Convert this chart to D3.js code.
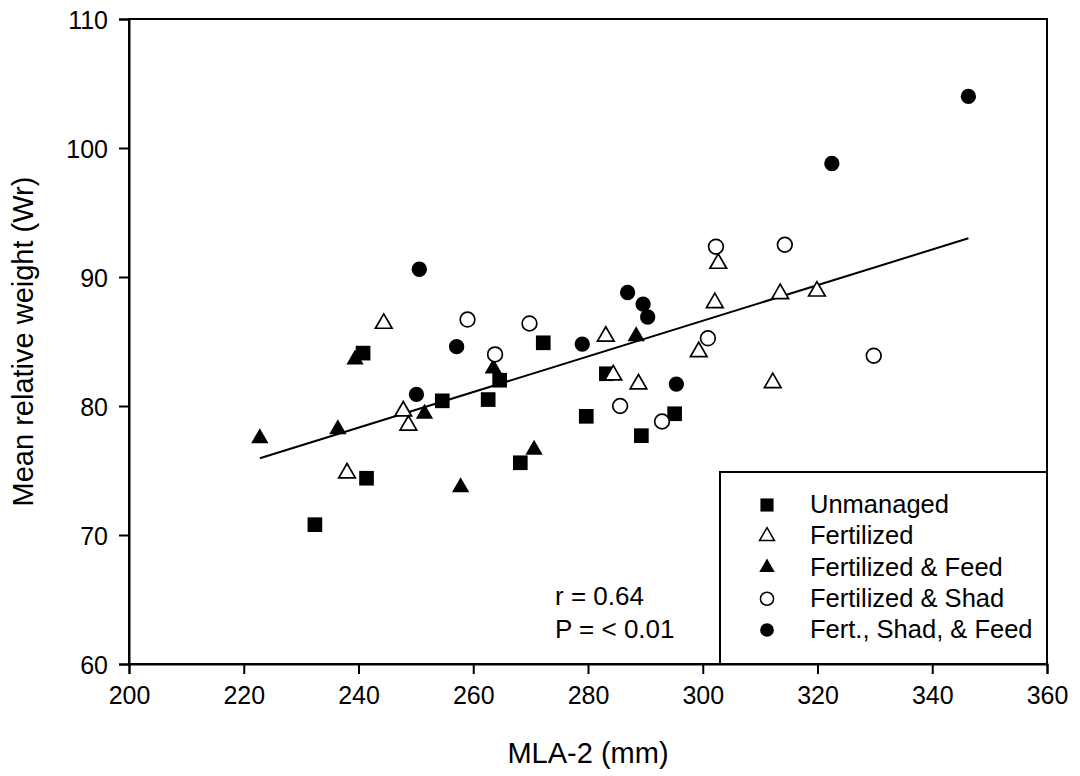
<!DOCTYPE html>
<html>
<head>
<meta charset="utf-8">
<script src="https://cdn.jsdelivr.net/npm/d3@7"></script>
<style>
  body { margin: 0; background: #fff; }
  svg { font-family: "Liberation Sans", Arial, sans-serif; }
</style>
</head>
<body>
<svg id="chart" width="1080" height="776"></svg>
<script>
// values: [MLA-2, Wr]
const unmanaged = [[232.4,70.8],[241.4,74.4],[240.8,84.1],[254.6,80.4],[262.6,80.5],[264.6,82.0],
  [268.2,75.6],[272.2,84.9],[279.7,79.2],[283.2,82.5],[289.3,77.7],[295.1,79.4]];
const fertilized = [[238.0,74.8],[244.4,86.4],[247.8,79.6],[248.7,78.5],[283.1,85.4],[284.4,82.4],
  [288.8,81.7],[299.3,84.2],[302.1,88.0],[302.7,91.05],[312.2,81.8],[313.5,88.7],[319.9,88.9]];
const fertFeed = [[222.8,77.5],[236.4,78.2],[239.4,83.6],[251.5,79.4],[257.8,73.7],[263.5,82.9],
  [270.6,76.6],[288.4,85.4]];
const fertShad = [[259.0,86.7],[263.8,84.0],[269.8,86.4],[285.6,80.0],[292.9,78.8],[300.9,85.25],
  [302.3,92.35],[314.3,92.5],[329.8,83.9]];
const fertShadFeed = [[250.6,90.6],[257.1,84.6],[250.1,80.9],[279.0,84.8],[286.9,88.8],[289.6,87.9],
  [290.4,86.9],[295.4,81.7],[322.5,98.8],[346.3,104.0]];
const fitLine = [[222.8,75.95],[346.3,93.0]];

const xTicks = [200,220,240,260,280,300,320,340,360];
const yTicks = [60,70,80,90,100,110];
const seriesNames = ["Unmanaged","Fertilized","Fertilized & Feed","Fertilized & Shad","Fert., Shad, & Feed"];
const statsText = ["r = 0.64","P = < 0.01"];

const series = [
  { name: seriesNames[0], data: unmanaged, shape: d3.symbolSquare, size: 215, filled: true },
  { name: seriesNames[1], data: fertilized, shape: d3.symbolTriangle, size: 120, filled: false },
  { name: seriesNames[2], data: fertFeed, shape: d3.symbolTriangle, size: 130, filled: true },
  { name: seriesNames[3], data: fertShad, shape: d3.symbolCircle, size: 170, filled: false },
  { name: seriesNames[4], data: fertShadFeed, shape: d3.symbolCircle, size: 185, filled: true }
];

const mLeft = 129, mRight = 1047, mTop = 19, mBottom = 664;
const svg = d3.select("#chart");

const x = d3.scaleLinear().domain([200,360]).range([mLeft,mRight]);
const y = d3.scaleLinear().domain([60,110]).range([mBottom,mTop]);

// frame
svg.append("rect")
  .attr("x", mLeft).attr("y", mTop)
  .attr("width", mRight - mLeft).attr("height", mBottom - mTop)
  .attr("fill", "none").attr("stroke", "#000").attr("stroke-width", 2);

const xAxis = svg.append("g")
  .attr("transform", "translate(0," + mBottom + ")")
  .call(d3.axisBottom(x).tickValues(xTicks).tickSize(10).tickPadding(12).tickFormat(d3.format("d")));
const yAxis = svg.append("g")
  .attr("transform", "translate(" + mLeft + ",0)")
  .call(d3.axisLeft(y).tickValues(yTicks).tickSize(10).tickPadding(11).tickFormat(d3.format("d")));

[xAxis, yAxis].forEach(ax => {
  ax.select(".domain").attr("stroke-width", 2);
  ax.selectAll(".tick line").attr("stroke-width", 2);
  ax.selectAll(".tick text").attr("font-size", 25).attr("fill", "#000")
    .attr("font-family", "'Liberation Sans', Arial, sans-serif");
});
yAxis.selectAll(".tick text").attr("dy", "0.36em");

// axis titles
svg.append("text")
  .attr("x", (mLeft + mRight) / 2).attr("y", 763)
  .attr("text-anchor", "middle").attr("font-size", 29)
  .text("MLA-2 (mm)");
svg.append("text")
  .attr("transform", "translate(33," + (mTop + mBottom) / 2 + ") rotate(-90)")
  .attr("text-anchor", "middle").attr("font-size", 29)
  .text("Mean relative weight (Wr)");

// regression line
svg.append("path")
  .datum(fitLine)
  .attr("d", d3.line().x(d => x(d[0])).y(d => y(d[1])))
  .attr("stroke", "#000").attr("stroke-width", 2).attr("fill", "none");

// points
series.forEach(s => {
  svg.append("g").selectAll("path")
    .data(s.data)
    .enter()
    .append("path")
    .attr("transform", d => "translate(" + x(d[0]) + "," + y(d[1]) + ")")
    .attr("d", d3.symbol().type(s.shape).size(s.size))
    .attr("fill", s.filled ? "#000" : "#fff")
    .attr("stroke", "#000")
    .attr("stroke-width", s.filled ? 0 : 1.7);
});

// stats
svg.append("g").selectAll("text")
  .data(statsText)
  .enter()
  .append("text")
  .attr("x", 555).attr("y", (d, i) => 605 + i * 33)
  .attr("font-size", 26)
  .text(d => d);

// legend
const legend = svg.append("g");
legend.append("rect")
  .attr("x", 720).attr("y", 472)
  .attr("width", mRight - 720).attr("height", mBottom - 472)
  .attr("fill", "#fff").attr("stroke", "#000").attr("stroke-width", 2);
const rows = legend.selectAll("g.row")
  .data(series)
  .enter()
  .append("g")
  .attr("class", "row")
  .attr("transform", (d, i) => "translate(0," + (513 + i * 31.25) + ")");
rows.append("path")
  .attr("transform", "translate(767,-8)")
  .attr("d", d => d3.symbol().type(d.shape).size(d.size * 0.8)())
  .attr("fill", d => d.filled ? "#000" : "#fff")
  .attr("stroke", "#000")
  .attr("stroke-width", d => d.filled ? 0 : 1.5);
rows.append("text")
  .attr("x", 810).attr("y", 0)
  .attr("font-size", 25.5)
  .text(d => d.name);
</script>
</body>
</html>
